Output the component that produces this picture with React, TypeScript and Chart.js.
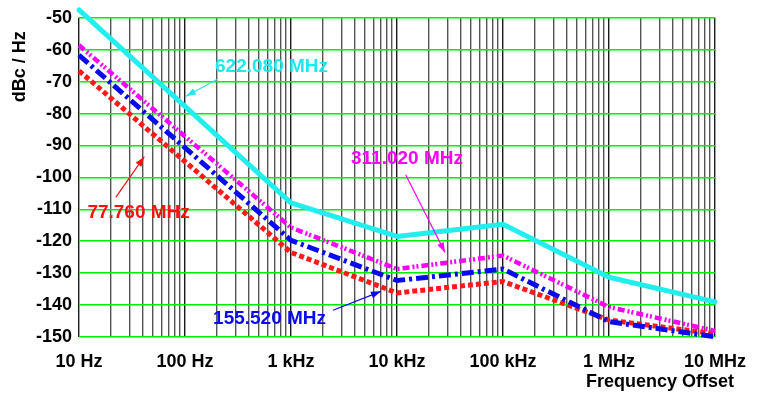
import React, { useEffect, useRef } from "react";
import { Chart, registerables } from "chart.js";

Chart.register(...registerables);

// ---- data ----
const freqs = [10, 1000, 10000, 100000, 1000000, 10000000];
const cyan622 = [-47.5, -108, -118.5, -114.7, -131.3, -139];
const magenta311 = [-58.6, -115.7, -128.7, -124.5, -140.6, -148.1];
const blue155 = [-61.7, -119.7, -132.3, -128.7, -145.2, -149.9];
const red77 = [-66.6, -123.5, -136.2, -132.6, -144.7, -149.0];

const xTickValues = [10, 100, 1000, 10000, 100000, 1000000, 10000000];
const xTickLabels = ["10 Hz", "100 Hz", "1 kHz", "10 kHz", "100 kHz", "1 MHz", "10 MHz"];

// annotation labels (data coordinates)
const annLabels = ["622.080 MHz", "311.020 MHz", "77.760 MHz", "155.520 MHz"];
const annColors = ["#1ee8ee", "#ff00ff", "#ff1010", "#0a0aee"];
const annTextX = [192, 3680, 12, 184];
const annTextY = [-65.2, -94.3, -111.2, -144.4];
const annFromX = [200, 12080, 22.3, 2490];
const annFromY = [-69.3, -99.2, -106.2, -141.6];
const annToX = [102, 28400, 41.3, 7060];
const annToY = [-74.6, -123.5, -93.5, -135.7];

const FONT = '"Liberation Sans", Arial, sans-serif';

const gridFreqs: number[] = [];
for (let d = 10; d < 1e7; d *= 10) for (let m = 1; m <= 9; m++) gridFreqs.push(m * d);
gridFreqs.push(1e7);

const annotationPlugin = {
  id: "annots",
  afterDatasetsDraw(chart: any) {
    const { ctx, scales, chartArea } = chart;
    const xs = scales.x, ys = scales.y;
    ctx.save();
    for (let i = 0; i < annLabels.length; i++) {
      const c = annColors[i];
      const x1 = xs.getPixelForValue(annFromX[i]);
      const y1 = ys.getPixelForValue(annFromY[i]);
      const x2 = xs.getPixelForValue(annToX[i]);
      const y2 = ys.getPixelForValue(annToY[i]);
      ctx.strokeStyle = c;
      ctx.fillStyle = c;
      ctx.lineWidth = 1.2;
      ctx.beginPath();
      ctx.moveTo(x1, y1);
      ctx.lineTo(x2, y2);
      ctx.stroke();
      const a = Math.atan2(y2 - y1, x2 - x1);
      const L = 10, W = 3.5;
      ctx.beginPath();
      ctx.moveTo(x2, y2);
      ctx.lineTo(x2 - L * Math.cos(a) + W * Math.sin(a), y2 - L * Math.sin(a) - W * Math.cos(a));
      ctx.lineTo(x2 - L * Math.cos(a) - W * Math.sin(a), y2 - L * Math.sin(a) + W * Math.cos(a));
      ctx.closePath();
      ctx.fill();
      ctx.font = `bold 19px ${FONT}`;
      ctx.textAlign = "left";
      ctx.textBaseline = "middle";
      ctx.fillText(annLabels[i], xs.getPixelForValue(annTextX[i]), ys.getPixelForValue(annTextY[i]));
    }
    // axis titles
    ctx.fillStyle = "#000";
    ctx.font = `bold 18px ${FONT}`;
    ctx.textAlign = "right";
    ctx.textBaseline = "middle";
    ctx.fillText("Frequency Offset", chartArea.right + 19, chartArea.bottom + 45);
    ctx.translate(20, chartArea.top + 49);
    ctx.rotate(-Math.PI / 2);
    ctx.textAlign = "center";
    ctx.fillText("dBc / Hz", 0, 0);
    ctx.restore();
  },
};

export default function App() {
  const ref = useRef<HTMLCanvasElement>(null);
  useEffect(() => {
    if (!ref.current) return;
    const mk = (vals: number[]) => freqs.map((f, i) => ({ x: f, y: vals[i] }));
    const chart = new Chart(ref.current, {
      type: "line",
      data: {
        datasets: [
          { label: "622.080 MHz", data: mk(cyan622), borderColor: "#22eeee", borderWidth: 5, pointRadius: 0, clip: false, borderCapStyle: "round", borderJoinStyle: "round" },
          { label: "311.020 MHz", data: mk(magenta311), borderColor: "#ff00ff", borderWidth: 4.5, borderDash: [7, 3, 2, 2, 2, 3], pointRadius: 0, clip: false },
          { label: "155.520 MHz", data: mk(blue155), borderColor: "#0a0aee", borderWidth: 5, borderDash: [12, 4, 3, 4], pointRadius: 0, clip: false },
          { label: "77.760 MHz", data: mk(red77), borderColor: "#ff1a1a", borderWidth: 5, borderDash: [5, 3], pointRadius: 0, clip: false },
        ],
      } as any,
      options: {
        animation: false,
        responsive: false,
        maintainAspectRatio: false,
        layout: { padding: { top: 15, right: 66, left: 0, bottom: 0 } },
        plugins: { legend: { display: false }, tooltip: { enabled: false } },
        scales: {
          x: {
            type: "logarithmic",
            min: 10,
            max: 1e7,
            afterBuildTicks: (scale: any) => {
              scale.ticks = gridFreqs.map((v) => ({ value: v }));
            },
            afterFit: (scale: any) => {
              scale.height = 57;
            },
            border: { display: false },
            grid: {
              drawTicks: false,
              color: (c: any) => (xTickValues.includes(c.tick?.value) ? "#1a1a1a" : "#555"),
              lineWidth: 1.4,
            },
            ticks: {
              autoSkip: false,
              maxRotation: 0,
              minRotation: 0,
              padding: 14,
              color: "#000",
              font: { family: FONT, size: 18, weight: "bold" },
              callback: (v: any) => {
                const i = xTickValues.indexOf(Number(v));
                return i >= 0 ? xTickLabels[i] : "";
              },
            },
          },
          y: {
            min: -150,
            max: -50,
            afterFit: (scale: any) => {
              scale.width = 79;
            },
            border: { display: false },
            grid: { drawTicks: false, color: "#00ee00", lineWidth: 1.5 },
            ticks: {
              stepSize: 10,
              padding: 7,
              color: "#000",
              font: { family: FONT, size: 18, weight: "bold" },
            },
          },
        },
      } as any,
      plugins: [annotationPlugin],
    });
    return () => chart.destroy();
  }, []);
  return (
    <div style={{ position: "fixed", left: 0, top: 0, width: 781, height: 394, background: "#fff" }}>
      <canvas ref={ref} width={781} height={394} style={{ width: 781, height: 394 }} />
    </div>
  );
}
